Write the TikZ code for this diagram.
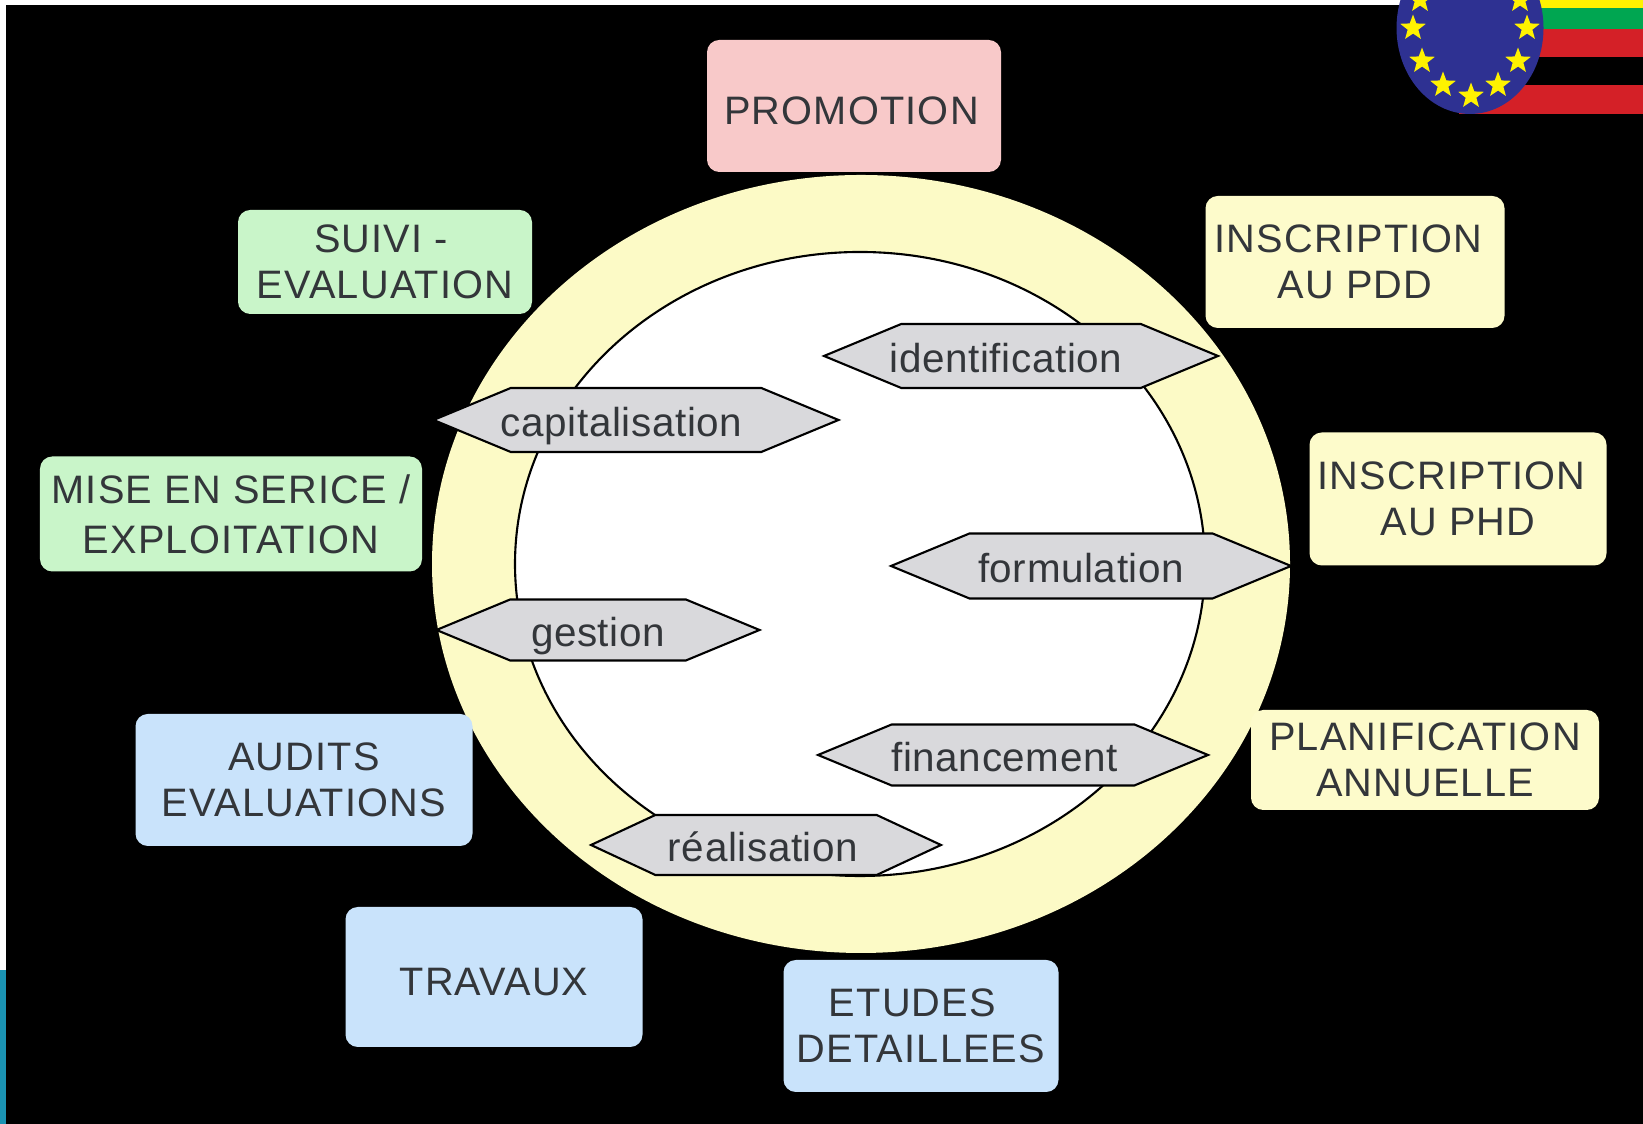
\documentclass[tikz,border=0pt]{standalone}
\usepackage{fontspec}
\setmainfont{Liberation Sans}
\definecolor{dgText}{HTML}{33363A}
\definecolor{dgPink}{HTML}{F8C9C9}
\definecolor{dgGreen}{HTML}{C9F5C9}
\definecolor{dgCream}{HTML}{FDFBCB}
\definecolor{dgBlue}{HTML}{C9E3FB}
\definecolor{dgGrey}{HTML}{D9D9DC}
\definecolor{dgRing}{HTML}{FCFAC6}
\definecolor{dgTeal}{HTML}{1B93B3}
\definecolor{dgEuBlue}{HTML}{2E3192}
\definecolor{dgFlagYellow}{HTML}{FFF200}
\definecolor{dgFlagGreen}{HTML}{00A651}
\definecolor{dgFlagRed}{HTML}{D42027}
\usetikzlibrary{shapes.geometric,shapes.symbols}
\newcommand{\hextext}[2]{\makebox[0pt]{\smash{\raisebox{-4.6pt}{#2}}\hspace*{#1}}}
\tikzset{
  stagebox/.style={rounded corners=3.5pt, inner sep=0pt, text=dgText, align=center,
    font=\fontsize{11.3}{13.1}\selectfont\addfontfeature{LetterSpace=3},
    execute at begin node={\rule{0pt}{#1}}},
  stagebox/.default=8pt,
  phasehex/.style={signal, signal to=west and east, signal pointer angle=45, draw=black, line width=0.6pt,
    fill=dgGrey, inner sep=0pt, outer sep=0pt, text=dgText,
    font=\fontsize{11.5}{14}\selectfont\addfontfeature{LetterSpace=1.5}},
  eustar/.style={star, star points=5, star point ratio=2.4, fill=dgFlagYellow, inner sep=0pt, minimum size=0.27cm}
}

\begin{document}
\begin{tikzpicture}
  \useasboundingbox (0,0) rectangle (16.43,11.24);
  \fill[black] (0,0) rectangle (16.43,11.24);
  \fill[white] (0,11.19) rectangle (14.2,11.24);
  \fill[white] (0,1.54) rectangle (0.06,11.24);
  \fill[dgTeal] (0,0) rectangle (0.06,1.54);
  % flag corner
  \fill[dgFlagYellow] (14.7,11.16) rectangle (16.43,11.24);
  \fill[dgFlagGreen] (14.7,10.95) rectangle (16.43,11.16);
  \fill[dgFlagRed] (14.7,10.67) rectangle (16.43,10.95);
  \fill[dgFlagRed] (14.59,10.10) rectangle (16.43,10.39);
  \fill[dgEuBlue] (14.70,10.96) ellipse (0.735 and 0.86);
  \foreach \sx/\sy [count=\si] in {14.13/10.96,14.22/10.63,14.43/10.39,14.71/10.28,14.98/10.39,15.18/10.63,15.27/10.96,14.20/11.24,15.20/11.24}
    \node[eustar] (star\si) at (\sx,\sy) {};
  % rings
  \fill[dgRing] (8.61,5.60) ellipse (4.29 and 3.89);
  \draw[fill=white, line width=0.6pt] (8.60,5.60) ellipse (3.45 and 3.12);
  % stages
  \node[stagebox=10.9pt, fill=dgPink, minimum width=2.94cm, minimum height=1.32cm] (promotion) at (8.54,10.18) {PROMOTION\hspace*{0.05cm}};
  \node[stagebox=11.8pt, fill=dgCream, minimum width=2.99cm, minimum height=1.32cm] (pdd) at (13.55,8.62) {INSCRIPTION\hspace*{0.13cm}\\AU PDD};
  \node[stagebox=11pt, fill=dgCream, minimum width=2.97cm, minimum height=1.33cm] (phd) at (14.58,6.25) {INSCRIPTION\hspace*{0.13cm}\\AU PHD};
  \node[stagebox=13.6pt, fill=dgCream, minimum width=3.48cm, minimum height=1.00cm] (planif) at (14.25,3.64) {PLANIFICATION\\ANNUELLE};
  \node[stagebox=11.8pt, fill=dgBlue, minimum width=2.75cm, minimum height=1.32cm] (etudes) at (9.21,0.98) {ETUDES\hspace*{0.17cm}\\DETAILLEES};
  \node[stagebox=10.6pt, fill=dgBlue, minimum width=2.97cm, minimum height=1.40cm] (travaux) at (4.94,1.47) {TRAVAUX};
  \node[stagebox=10.6pt, fill=dgBlue, minimum width=3.37cm, minimum height=1.32cm] (audits) at (3.04,3.44) {AUDITS\\EVALUATIONS};
  \node[stagebox=10pt, fill=dgGreen, minimum width=3.82cm, minimum height=1.15cm] (mise) at (2.31,6.10) {MISE EN SERICE /\\[1.1pt]EXPLOITATION};
  \node[stagebox=11.8pt, fill=dgGreen, minimum width=2.94cm, minimum height=1.04cm] (suivi) at (3.85,8.62) {SUIVI -\hspace*{0.08cm}\\EVALUATION};
  % phases
  \node[phasehex, minimum width=3.94cm, minimum height=0.64cm] (identification) at (10.21,7.68) {\hextext{0.3cm}{identification}};
  \node[phasehex, minimum width=4.05cm, minimum height=0.64cm] (capitalisation) at (6.36,7.04) {\hextext{0.29cm}{capitalisation}};
  \node[phasehex, minimum width=4.00cm, minimum height=0.65cm] (formulation) at (10.91,5.58) {\hextext{0.2cm}{formulation}};
  \node[phasehex, minimum width=3.23cm, minimum height=0.61cm] (gestion) at (5.98,4.94) {\hextext{0cm}{gestion}};
  \node[phasehex, minimum width=3.90cm, minimum height=0.61cm] (financement) at (10.13,3.69) {\hextext{0.17cm}{financement}};
  \node[phasehex, signal pointer angle=50, minimum width=3.50cm, minimum height=0.60cm] (realisation) at (7.66,2.79) {\hextext{0.06cm}{réalisation}};
\end{tikzpicture}
\end{document}
